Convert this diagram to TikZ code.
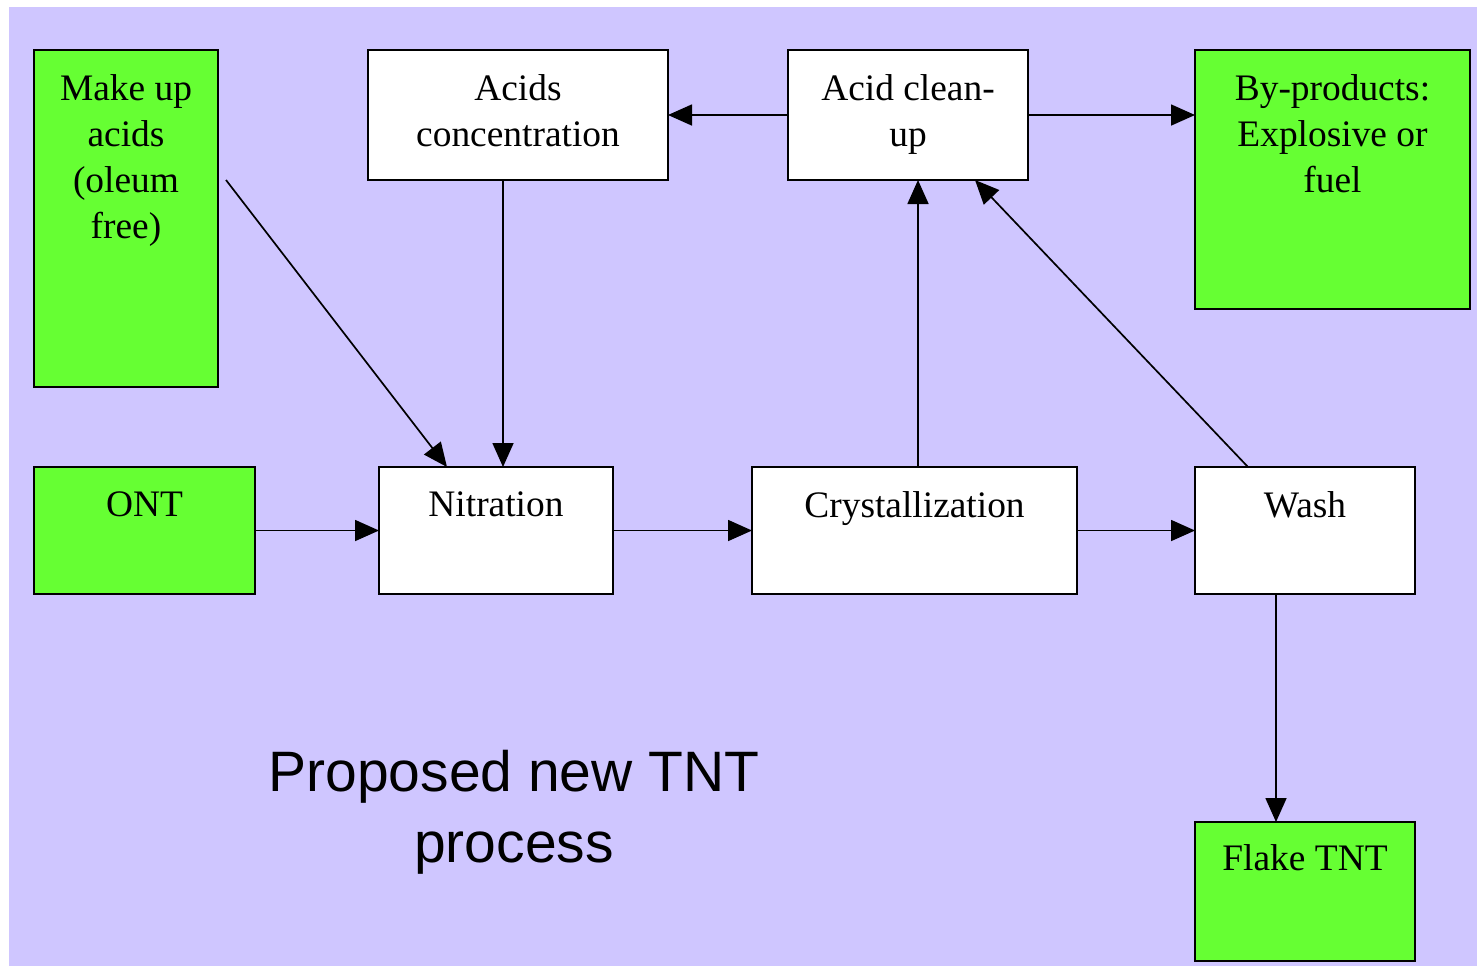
\documentclass[tikz,border=0pt]{standalone}
\usepackage{fontspec}
\setmainfont{Liberation Serif}
\newfontfamily\titlefont{Liberation Sans}
\usetikzlibrary{arrows.meta}
\definecolor{lav}{HTML}{CFC6FF}
\definecolor{grn}{HTML}{66FF33}
\tikzset{
  box/.style={draw=black, line width=1pt, inner sep=0pt, outer sep=0pt, anchor=north west},
  whitebox/.style={box, fill=white},
  greenbox/.style={box, fill=grn},
  boxtext/.style={inner sep=0pt, align=center, anchor=north, font=\fontsize{18.7}{23}\selectfont},
  flow/.style={line width=0.85pt, -{Triangle[length=12pt,width=10.5pt]}},
}
\begin{document}
\begin{tikzpicture}[x=0.5pt, y=-0.5pt]
\useasboundingbox (0,0) rectangle (1477,966);
\fill[white] (0,0) rectangle (1477,966);
\fill[lav] (9,7) rectangle (1477,966);

% boxes
\node[greenbox, minimum width=92pt, minimum height=168.5pt] (mk) at (34,50) {};
\node[whitebox, minimum width=150pt, minimum height=65pt] (ac) at (368,50) {};
\node[whitebox, minimum width=120pt, minimum height=65pt] (cl) at (788,50) {};
\node[greenbox, minimum width=137.5pt, minimum height=129.5pt] (bp) at (1195,50) {};
\node[greenbox, minimum width=110.5pt, minimum height=63.5pt] (ont) at (34,467) {};
\node[whitebox, minimum width=117pt, minimum height=63.5pt] (nit) at (379,467) {};
\node[whitebox, minimum width=162.5pt, minimum height=63.5pt] (cry) at (752,467) {};
\node[whitebox, minimum width=110pt, minimum height=63.5pt] (wash) at (1195,467) {};
\node[greenbox, minimum width=110pt, minimum height=69.5pt] (fl) at (1195,822) {};

% texts
\node[boxtext] (mkt) at ([yshift=-12pt]mk.north) {Make up\\acids\\(oleum\\free)};
\node[boxtext] (act) at ([yshift=-12pt]ac.north) {Acids\\concentration};
\node[boxtext] (clt) at ([yshift=-12pt]cl.north) {Acid clean-\\up};
\node[boxtext] (bpt) at ([yshift=-12pt]bp.north) {By-products:\\Explosive or\\fuel};
\node[boxtext] (ontt) at ([yshift=-12pt]ont.north) {ONT};
\node[boxtext] (nitt) at ([yshift=-12pt]nit.north) {Nitration};
\node[boxtext] (cryt) at ([yshift=-12pt]cry.north) {Crystallization};
\node[boxtext] (washt) at ([yshift=-12pt]wash.north) {Wash};
\node[boxtext] (flt) at ([yshift=-11pt]fl.north) {Flake TNT};

\node[align=center, inner sep=0pt, font=\titlefont\fontsize{28.5}{35.5}\selectfont] (title) at (514,812) {Proposed new TNT\\process};

% connectors
\coordinate (mkout) at (226,180);
\draw[flow] (mkout) -- ([xshift=-24.5pt]nit.north);
\draw[flow] ([xshift=-7.5pt]ac.south) -- ([xshift=3.5pt]nit.north);
\draw[flow] (cl.west) -- (ac.east);
\draw[flow] (cl.east) -- (bp.west |- cl.east);
\draw[flow] (ont.east) -- (nit.west);
\draw[flow] (nit.east) -- (cry.west);
\draw[flow] ([xshift=1.75pt]cry.north) -- ([xshift=5pt]cl.south);
\draw[flow] (cry.east) -- (wash.west);
\draw[flow] ([xshift=-28.5pt]wash.north) -- ([xshift=33.5pt]cl.south);
\draw[flow] ([xshift=-14.5pt]wash.south) -- ([xshift=-14.5pt]fl.north);
\end{tikzpicture}
\end{document}
